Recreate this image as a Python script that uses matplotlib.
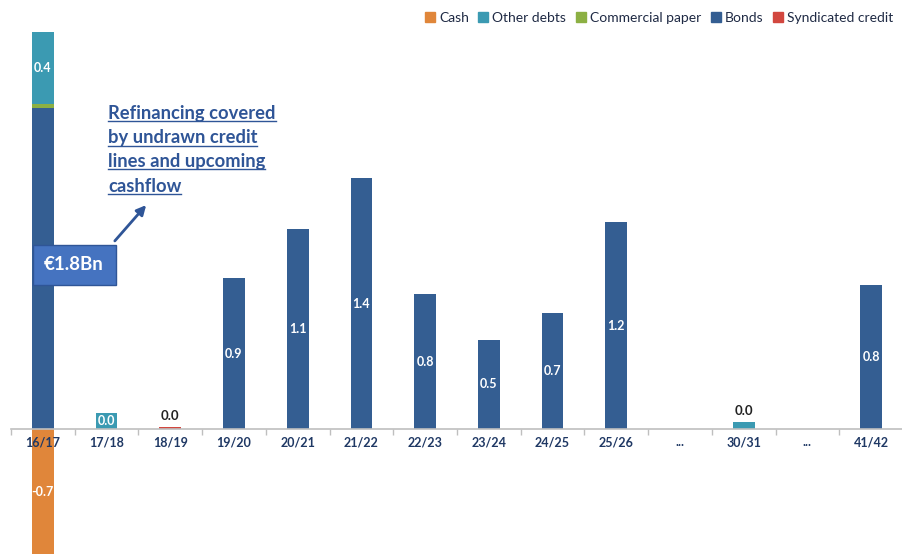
import numpy as np
import matplotlib.pyplot as plt
from matplotlib.patches import Patch
from matplotlib.lines import Line2D

# data (EUR bn)
categories = ["16/17", "17/18", "18/19", "19/20", "20/21", "21/22", "22/23",
              "23/24", "24/25", "25/26", "...", "30/31", "...", "41/42"]
cash = [-0.71, 0, 0, 0, 0, 0, 0, 0, 0, 0, 0, 0, 0, 0]
bonds = [1.83, 0, 0, 0.86, 1.14, 1.43, 0.77, 0.51, 0.66, 1.18, 0, 0, 0, 0.82]
commercial_paper = [0.02, 0, 0, 0, 0, 0, 0, 0, 0, 0, 0, 0, 0, 0]
other_debts = [0.41, 0.09, 0, 0, 0, 0, 0, 0, 0, 0, 0, 0.04, 0, 0]
syndicated = [0, 0, 0.01, 0, 0, 0, 0, 0, 0, 0, 0, 0, 0, 0]
# labels printed on the slide where they differ from the rounded bar value
label_override = {1: "0.0"}

c_cash = "#E0863A"
c_other = "#3B9AB2"
c_cp = "#8CB043"
c_bonds = "#345E92"
c_synd = "#D2473F"
navy = "#1F3864"

plt.rcParams['font.family'] = ['Lato', 'DejaVu Sans']

fig = plt.figure(figsize=(9.03, 5.54), dpi=100)
ax = fig.add_axes([11 / 903, 0, 892 / 903, 522 / 554])

x = np.arange(len(categories))
w = 0.34
bonds = np.array(bonds)
cp = np.array(commercial_paper)
other = np.array(other_debts)
synd = np.array(syndicated)

ax.bar(x, cash, w, color=c_cash)
ax.bar(x, synd, w, color=c_synd)
ax.bar(x, bonds, w, bottom=synd, color=c_bonds)
ax.bar(x, cp, w, bottom=synd + bonds, color=c_cp)
ax.bar(x, other, w, bottom=synd + bonds + cp, color=c_other)

ymin, ymax = -0.71, 2.26
ax.set_ylim(ymin, ymax)
ax.set_xlim(-0.5, 13.376)

lab_kw = dict(ha="center", va="center", fontsize=9, fontweight="bold")
for i in range(len(categories)):
    if bonds[i] > 0:
        ax.text(x[i], synd[i] + bonds[i] / 2, f"{bonds[i]:.1f}", color="white", **lab_kw)
    if cash[i] < 0:
        ax.text(x[i], max(cash[i], ymin) / 2, f"{cash[i]:.1f}", color="white", **lab_kw)
    if other[i] > 0.06:
        base = synd[i] + bonds[i] + cp[i]
        ax.text(x[i], base + other[i] / 2, label_override.get(i, f"{other[i]:.1f}"),
                color="white", **lab_kw)
    elif other[i] > 0:
        ax.text(x[i], other[i] + 0.03, f"{other[i]:.1f}", color="#222222",
                ha="center", va="bottom", fontsize=9.5, fontweight="bold")
    if synd[i] > 0:
        ax.text(x[i], synd[i] + 0.03, f"{synd[i]:.1f}", color="#222222",
                ha="center", va="bottom", fontsize=9.5, fontweight="bold")

# axis styling
for s in ["top", "right", "left"]:
    ax.spines[s].set_visible(False)
ax.spines["bottom"].set_position(("data", 0))
ax.spines["bottom"].set_color("#BFBFBF")
ax.spines["bottom"].set_linewidth(1.2)
ax.set_yticks([])
ax.set_xticks(x)
ax.set_xticklabels(categories, color=navy, fontsize=9, fontweight="bold")
ax.tick_params(axis="x", which="major", length=0, pad=5)
ax.set_xticks(np.arange(-0.5, len(categories), 1), minor=True)
ax.tick_params(axis="x", which="minor", length=4, color="#BFBFBF", width=1)

# legend
handles = [Patch(color=c_cash, label="Cash"),
           Patch(color=c_other, label="Other debts"),
           Patch(color=c_cp, label="Commercial paper"),
           Patch(color=c_bonds, label="Bonds"),
           Patch(color=c_synd, label="Syndicated credit")]
fig.legend(handles=handles, loc="center right", bbox_to_anchor=(1.003, 1 - 18 / 554),
           ncol=5, frameon=False, fontsize=10, handlelength=0.7, handleheight=0.7,
           handletextpad=0.3, columnspacing=0.7, labelcolor="#1F2A44")

# annotation box and arrow
fig.text(74 / 903, 1 - 265 / 554, "€1.8Bn", ha="center", va="center", color="white",
         fontsize=13.5, fontweight="bold",
         bbox=dict(boxstyle="square,pad=0.62", fc="#4573C0", ec="#2F5597", lw=1))
ax.annotate("", xy=(148 / 903, 1 - 203 / 554), xytext=(113 / 903, 1 - 243 / 554),
            xycoords="figure fraction", textcoords="figure fraction",
            arrowprops=dict(arrowstyle="-|>", color="#2F5597", lw=2, mutation_scale=14))

note_lines = ["Refinancing covered", "by undrawn credit", "lines and upcoming", "cashflow"]
note_y = [113, 138, 162, 186]
texts = []
for line, yy in zip(note_lines, note_y):
    texts.append(fig.text(108 / 903, 1 - yy / 554, line, ha="left", va="center",
                          color="#2F5597", fontsize=13.2, fontweight="bold"))
fig.canvas.draw()
r = fig.canvas.get_renderer()
for t in texts:
    bb = t.get_window_extent(r)
    yline = bb.y0 + 1
    fig.add_artist(Line2D([bb.x0 / 903, bb.x1 / 903], [yline / 554, yline / 554],
                          transform=fig.transFigure, color="#2F5597", lw=1))

fig.savefig("out.png", dpi=100)
